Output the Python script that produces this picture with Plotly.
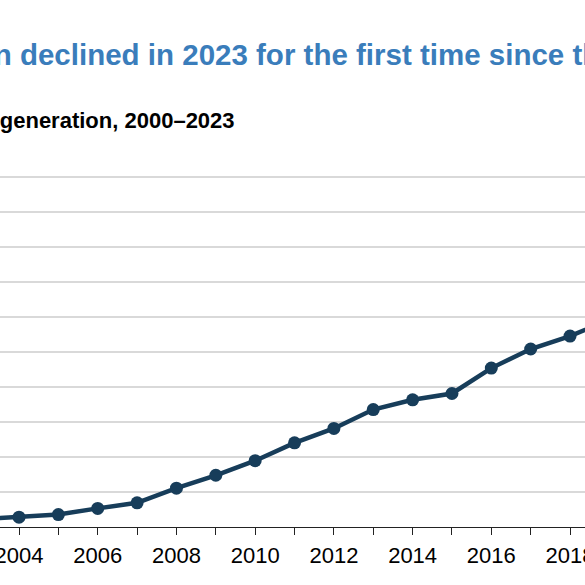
import plotly.graph_objects as go

years = list(range(2000, 2024))
wind_twh = [5.6, 6.7, 10.4, 11.2, 14.1, 17.8, 26.6, 34.5, 55.4, 73.9, 94.7, 120.2,
            140.8, 167.8, 181.7, 190.7, 227.0, 254.3, 272.7, 295.9, 337.9, 378.2,
            434.3, 425.2]

title_text = "U.S. wind generation declined in 2023 for the first time since the mid-1990s"
subtitle_text = "Annual U.S. wind generation, 2000–2023"

W = 585
H = 585
M_T = 170
M_B = 57.5
FONT = "Liberation Sans, Arial, Helvetica, sans-serif"

plot_h = H - M_T - M_B
def py(ypx):
    return (H - M_B - ypx) / plot_h

fig = go.Figure()
fig.add_trace(go.Scatter(
    x=years, y=wind_twh, mode="lines+markers",
    line=dict(color="#173d5a", width=4.5),
    marker=dict(color="#173d5a", size=13),
    showlegend=False, hoverinfo="skip",
))

fig.update_layout(
    width=W, height=H,
    margin=dict(l=0, r=0, t=M_T, b=M_B, pad=0, autoexpand=False),
    paper_bgcolor="white", plot_bgcolor="white",
    font=dict(family=FONT, color="black"),
    xaxis=dict(
        range=[2003.517, 2018.38], tickmode="linear", tick0=2000, dtick=2,
        automargin=False, ticklabeloverflow="allow",
        ticks="outside", ticklen=7, tickwidth=1.2, tickcolor="#222",
        showline=True, linecolor="#222", linewidth=1.2,
        showgrid=False, zeroline=False,
        tickfont=dict(size=22, color="black"), ticklabelstandoff=1,
        minor=dict(dtick=1, tick0=2000, ticks="outside", ticklen=7,
                   tickwidth=1.2, tickcolor="#222", showgrid=False),
    ),
    yaxis=dict(
        range=[0, 510], tickmode="linear", tick0=0, dtick=50,
        automargin=False,
        showgrid=True, gridcolor="#d9d9d9", gridwidth=1.6,
        zeroline=False, showticklabels=False, showline=False,
    ),
    annotations=[
        dict(text=title_text, xref="paper", yref="paper",
             x=-280.5 / W, y=py(54), xanchor="left", yanchor="middle",
             showarrow=False, borderpad=0, borderwidth=0,
             font=dict(family=FONT, size=29.5, color="#3a7dbb", weight="bold")),
        dict(text=subtitle_text, xref="paper", yref="paper",
             x=234.5 / W, y=py(120.5), xanchor="right", yanchor="middle",
             showarrow=False, borderpad=0, borderwidth=0,
             font=dict(family=FONT, size=22, color="black", weight="bold")),
    ],
)

fig.write_html("out.html", config={"displayModeBar": False},
               post_script="document.body.style.margin='0';")
